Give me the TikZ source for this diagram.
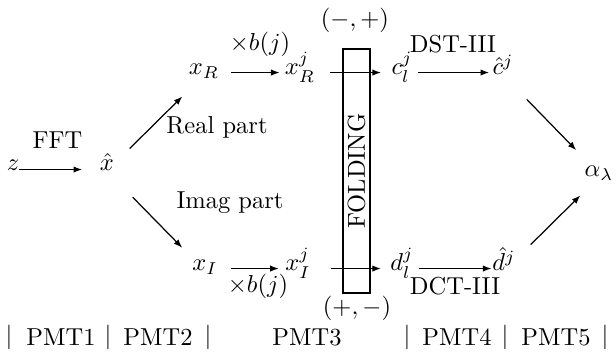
\documentclass[tikz,border=0pt]{standalone}
\usetikzlibrary{arrows.meta}
\begin{document}
\begin{tikzpicture}[x=0.408pt,y=-0.408pt,
  every node/.style={inner sep=0pt, outer sep=0pt},
  conn/.style={-{Latex[length=3.5pt,width=2.6pt]}, line width=0.5pt},
  lab/.style={anchor=base},
  foldbox/.style={draw, line width=0.5pt, rotate=90, minimum width=99.6pt, minimum height=11pt}]
\useasboundingbox (0,0) rectangle (616,354);
% folding box
\node[foldbox] (fold) at (356.5,171) {FOLDING};
% math nodes
\node[lab] (z) at (13,171) {$z$};
\node[lab] (xhat) at (107,171) {$\hat{x}$};
\node[lab] (xR) at (204,75) {$x_R$};
\node[lab] (xRj) at (300,75) {$x_R^j$};
\node[lab] (c) at (402,75) {$c_l^j$};
\node[lab] (chat) at (503,75) {$\hat{c}^j$};
\node[lab] (xI) at (205,271) {$x_I$};
\node[lab] (xIj) at (298,271) {$x_I^j$};
\node[lab] (d) at (402,271) {$d_l^j$};
\node[lab] (dhat) at (504,271) {$\hat{d}^j$};
\node[lab] (alpha) at (599,177) {$\alpha_\lambda$};
% labels
\node[lab] (fft) at (57.5,149) {FFT};
\node[lab] (mb1) at (260,51) {$\times b(j)$};
\node[lab] (mb2) at (258,293) {$\times b(j)$};
\node[lab] (dst) at (453,53) {DST-III};
\node[lab] (dct) at (455,295) {DCT-III};
\node[lab] (real) at (217,134) {Real part};
\node[lab] (imag) at (230,209) {Imag part};
\node (mp) at (355,20) {$(-,+)$};
\node (pm) at (357,308) {$(+,-)$};
% PMT row
\node[lab] (b1) at (9,344) {$|$};
\node[lab] (p1) at (61,346) {PMT1};
\node[lab] (b2) at (108,344) {$|$};
\node[lab] (p2) at (158,346) {PMT2};
\node[lab] (b3) at (208,344) {$|$};
\node[lab] (p3) at (307,346) {PMT3};
\node[lab] (b4) at (407,344) {$|$};
\node[lab] (p4) at (457,346) {PMT4};
\node[lab] (b5) at (505,344) {$|$};
\node[lab] (p5) at (556,346) {PMT5};
\node[lab] (b6) at (605,344) {$|$};
% horizontal connectors
\draw[conn, shorten >=7.3pt] ([yshift=0.6pt]z.base east) -- ([yshift=0.6pt]xhat.base west);
\draw[conn, shorten <=4.9pt, shorten >=2.2pt] ([yshift=1pt]xR.base east) -- ([yshift=1pt]xRj.base west);
\draw[conn, shorten <=6.3pt, shorten >=4.3pt] ([yshift=1pt]xRj.base east) -- ([yshift=1pt]c.base west);
\draw[conn, shorten <=2.2pt, shorten >=1.4pt] ([yshift=1pt]c.base east) -- ([yshift=1pt]chat.base west);
\draw[conn, shorten <=5.5pt, shorten >=2.7pt] ([yshift=1pt]xI.base east) -- ([yshift=1pt]xIj.base west);
\draw[conn, shorten <=8.4pt, shorten >=3.9pt] ([yshift=1pt]xIj.base east) -- ([yshift=1pt]d.base west);
\draw[conn, shorten <=2.2pt, shorten >=0.4pt] ([yshift=1pt]d.base east) -- ([yshift=1pt]dhat.base west);
% diagonal connectors
\draw[conn, shorten <=13pt, shorten >=12.4pt] (xhat.base) -- (xR.base);
\draw[conn, shorten <=15pt, shorten >=13.3pt] (xhat.base) -- (xI.base);
\draw[conn, shorten <=13.9pt, shorten >=13.3pt] (chat.base) -- (alpha.center);
\draw[conn, shorten <=15.3pt, shorten >=10.7pt] (dhat.base) -- (alpha.base);
\end{tikzpicture}
\end{document}
